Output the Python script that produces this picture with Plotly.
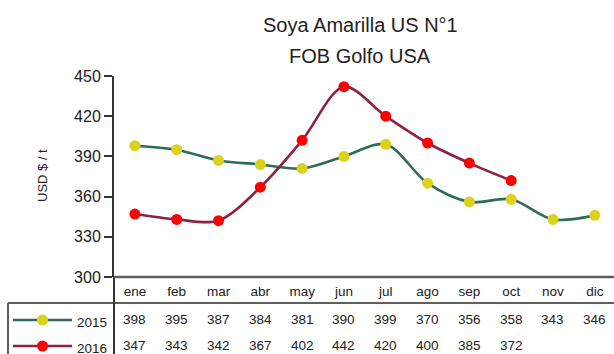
import plotly.graph_objects as go

months = ["ene", "feb", "mar", "abr", "may", "jun", "jul", "ago", "sep", "oct", "nov", "dic"]
years = ["2015", "2016"]
soya_2015 = [398, 395, 387, 384, 381, 390, 399, 370, 356, 358, 343, 346]
soya_2016 = [347, 343, 342, 367, 402, 442, 420, 400, 385, 372]

W, H = 614, 354
L, R, T, B = 114, 0, 76, 77
PW, PH = W - L - R, H - T - B
FONT = "Liberation Sans, Arial, sans-serif"
GRID = "#5f5f5f"
TXT = "#222"

line_cols = {"2015": "#2f6b5c", "2016": "#8c2247"}
mark_cols = {"2015": "#dcd21c", "2016": "#ff0000"}


def px(x):
    return (x - L) / PW


def py(y):
    return (H - B - y) / PH


def label(x, y, text, size, xref="paper", **kw):
    return dict(x=x, y=y, xref=xref, yref="paper", text=text, showarrow=False,
                xanchor=kw.pop("xanchor", "center"), yanchor="middle",
                font=dict(family=FONT, size=size, color=TXT), **kw)


fig = go.Figure()
for yr, vals in zip(years, (soya_2015, soya_2016)):
    fig.add_trace(go.Scatter(
        x=months[:len(vals)], y=vals, mode="lines+markers", name=yr,
        line=dict(color=line_cols[yr], width=2.6, shape="spline", smoothing=0.9),
        marker=dict(color=mark_cols[yr], size=11, line=dict(width=0)),
        showlegend=False, cliponaxis=False, hoverinfo="skip"))

# table grid lines
shapes = [
    dict(type="line", xref="paper", yref="paper", x0=px(8), x1=px(W), y0=py(303), y1=py(303),
         line=dict(color=GRID, width=2)),
    dict(type="line", xref="paper", yref="paper", x0=px(8), x1=px(8), y0=py(303), y1=py(H),
         line=dict(color=GRID, width=2)),
    dict(type="line", xref="paper", yref="paper", x0=0, x1=0, y0=0, y1=py(H),
         line=dict(color="#333", width=2)),
    dict(type="line", xref="paper", yref="paper", x0=0, x1=px(W), y0=0, y1=0,
         line=dict(color=GRID, width=2.5)),
]

annotations = [
    label(px(360), py(25), "Soya Amarilla US N°1", 20),
    label(px(360), py(56), "FOB Golfo USA", 20),
    label(px(42), py(176), "USD $ / t", 13, textangle=-90),
]

row_y = {"2015": 320, "2016": 346}
for yr, vals in zip(years, (soya_2015, soya_2016)):
    yy = py(row_y[yr])
    shapes.append(dict(type="line", xref="paper", yref="paper", x0=px(13), x1=px(72),
                       y0=yy, y1=yy, line=dict(color=line_cols[yr], width=2.6)))
    shapes.append(dict(type="circle", xref="paper", yref="paper",
                       x0=px(37), x1=px(48), y0=py(row_y[yr] + 5.5), y1=py(row_y[yr] - 5.5),
                       fillcolor=mark_cols[yr], line=dict(width=0)))
    annotations.append(label(px(75), py(row_y[yr] + 2), yr, 13.5, xanchor="left"))
    for m, v in zip(months, vals):
        annotations.append(label(m, py(row_y[yr] - 1), str(v), 13.5, xref="x"))

fig.update_layout(
    width=W, height=H, margin=dict(l=L, r=R, t=T, b=B),
    paper_bgcolor="white", plot_bgcolor="white",
    shapes=shapes, annotations=annotations,
)
fig.update_xaxes(type="category", categoryorder="array", categoryarray=months,
                 range=[-0.5, 11.46], showgrid=False, showline=False, ticks="",
                 ticklabelstandoff=4,
                 tickfont=dict(family=FONT, size=13.5, color=TXT))
fig.update_yaxes(range=[300, 450], tickvals=[300, 330, 360, 390, 420, 450], showgrid=False,
                 zeroline=False, showline=True, linecolor="#333", linewidth=2,
                 ticks="outside", ticklen=8, tickwidth=2, tickcolor="#333",
                 tickfont=dict(family=FONT, size=16, color=TXT))

fig.write_html("out.html", config={"displayModeBar": False},
               post_script="document.body.style.margin='0';")
